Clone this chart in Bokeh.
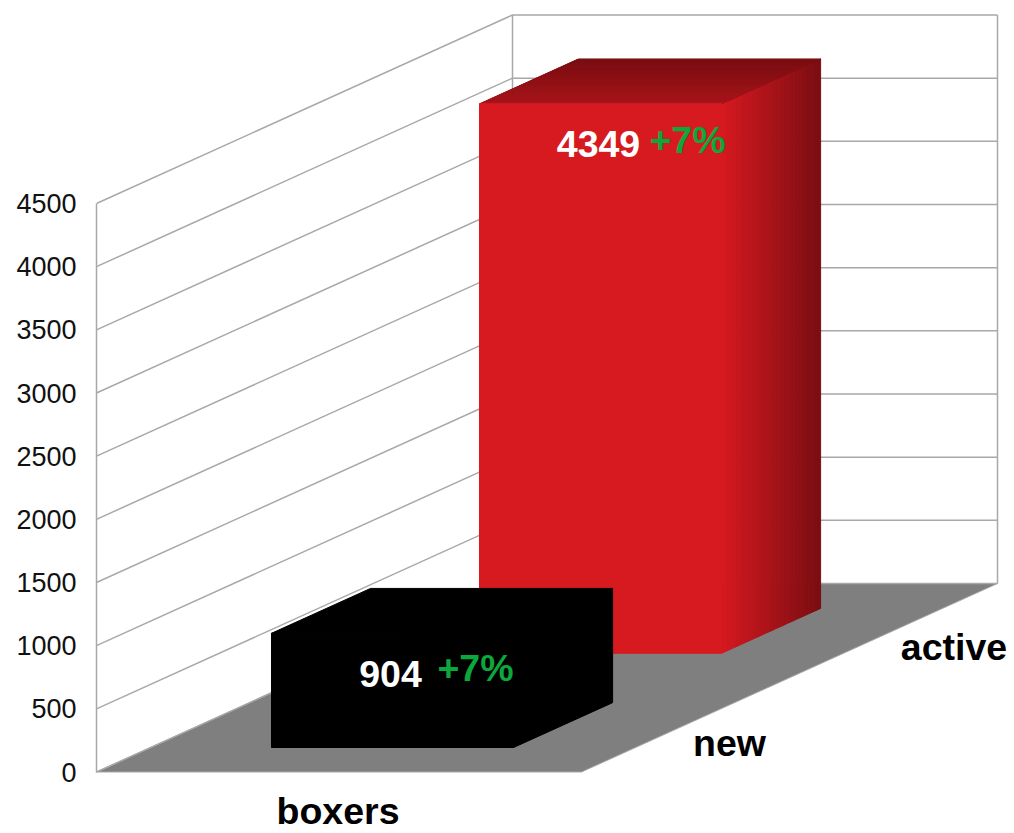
from bokeh.plotting import figure
from bokeh.models import Range1d, FixedTicker
from bokeh.core.properties import value
from bokeh.embed import file_html
from bokeh.resources import INLINE

category = "boxers"
series = ["new", "active"]
bar_values = [904, 4349]
changes = ["+7%", "+7%"]
ticks = [0, 500, 1000, 1500, 2000, 2500, 3000, 3500, 4000, 4500]

FONT = value("Liberation Sans")
GRID = "#a8a8a8"
FLOOR = "#7f7f7f"
GREEN = "#0ba83c"

# Reference geometry in page pixels
LEFT, ZERO_Y, TOP_Y = 96.0, 771.5, 203.0
PX_PER_VAL = (ZERO_Y - TOP_Y) / 4500
CAT_W = 485.0
DEPTH_X, DEPTH_Y = 416.0, 188.5
DEPTH_V = DEPTH_Y / PX_PER_VAL
W, H = 1012, 832
VMAX = 4500


def px(u, d):
    return u * CAT_W + d * DEPTH_X


def vy(v, d):
    return v + d * DEPTH_V


def pt(page_x, page_y):
    return page_x - LEFT, (ZERO_Y - page_y) / PX_PER_VAL


p = figure(width=W, height=H, output_backend="svg", toolbar_location=None,
           x_range=Range1d(0, W - LEFT),
           y_range=Range1d((ZERO_Y - H) / PX_PER_VAL, ZERO_Y / PX_PER_VAL),
           min_border_left=int(LEFT), min_border_right=0, min_border_top=0, min_border_bottom=0,
           background_fill_color="white", border_fill_color="white", outline_line_color=None)
p.xgrid.visible = False
p.ygrid.visible = False
p.xaxis.visible = False

ax = p.yaxis[0]
ax.ticker = FixedTicker(ticks=ticks)
ax.bounds = (0, VMAX)
ax.formatter.use_scientific = False
ax.axis_line_color = GRID
ax.axis_line_width = 1.5
ax.major_tick_line_color = None
ax.minor_tick_line_color = None
ax.major_tick_in = 0
ax.major_tick_out = 0
ax.major_label_standoff = 20
ax.major_label_text_font = "Liberation Sans"
ax.major_label_text_font_size = "27px"
ax.major_label_text_color = "#111111"

# Floor
p.patch([px(0, 0), px(1, 0), px(1, 1), px(0, 1)], [vy(0, 0), vy(0, 0), vy(0, 1), vy(0, 1)],
        fill_color=FLOOR, line_color=GRID, line_width=1)

# Walls
for t in ticks:
    p.line([px(0, 0), px(0, 1), px(1, 1)], [vy(t, 0), vy(t, 1), vy(t, 1)],
           line_color=GRID, line_width=1.5)
for u in (0, 1):
    p.line([px(u, 1), px(u, 1)], [vy(0, 1), vy(VMAX, 1)], line_color=GRID, line_width=1.5)


def lerp(a, b, t):
    return tuple(int(round(a[i] + (b[i] - a[i]) * t)) for i in range(3))


def hexc(c):
    return "#%02x%02x%02x" % c


def bar(i, v, front, top_near, top_far, side_near, side_far, n):
    d0, d1 = (i + .26) / len(series), (i + .736) / len(series)
    u0, u1 = .2493, .7485
    # side
    for k in range(n):
        a = d0 + (d1 - d0) * k / n
        b = d0 + (d1 - d0) * (k + 1) / n
        c = hexc(lerp(side_near, side_far, ((k + .5) / n)))
        p.patch([px(u1, a), px(u1, b), px(u1, b), px(u1, a)],
                [vy(0, a), vy(0, b), vy(v, b), vy(v, a)],
                fill_color=c, line_color=c, line_width=1, line_join="round")
    # top
    for k in range(n):
        a = d0 + (d1 - d0) * k / n
        b = d0 + (d1 - d0) * (k + 1) / n
        c = hexc(lerp(top_near, top_far, ((k + .5) / n)))
        p.patch([px(u0, a), px(u1, a), px(u1, b), px(u0, b)],
                [vy(v, a), vy(v, a), vy(v, b), vy(v, b)],
                fill_color=c, line_color=c, line_width=1, line_join="round")
    # front
    c = hexc(front)
    p.patch([px(u0, d0), px(u1, d0), px(u1, d0), px(u0, d0)],
            [vy(0, d0), vy(0, d0), vy(v, d0), vy(v, d0)],
            fill_color=c, line_color=c, line_width=1, line_join="round")


bar(1, bar_values[1], (215, 25, 32), (168, 19, 24), (120, 14, 18), (215, 25, 32), (122, 14, 18), 45)
bar(0, bar_values[0], (0, 0, 0), (0, 0, 0), (0, 0, 0), (0, 0, 0), (0, 0, 0), 1)


def label(page_x, page_y, s, color, size="37.5px", align="center"):
    x, y = pt(page_x, page_y)
    p.text([x], [y], text=[s], text_color=color, text_font=FONT, text_font_size=size,
            text_font_style="bold", text_align=align, text_baseline="middle")


label(598, 143.5, str(bar_values[1]), "white")
label(687, 139.5, changes[1], GREEN)
label(390, 673.5, str(bar_values[0]), "white")
label(475, 667.5, changes[0], GREEN)
label(337.5, 810, category, "black")
label(729, 742, series[0], "black")
label(953.5, 646.5, series[1], "black")

open("out.html", "w").write(file_html(p, INLINE))
